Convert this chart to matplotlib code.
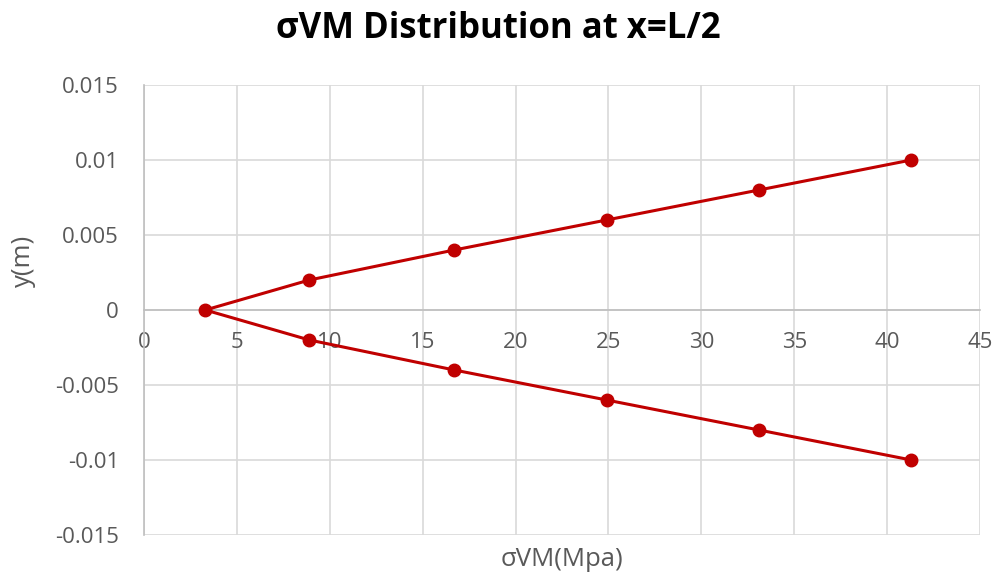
import matplotlib
matplotlib.use("Agg")
import matplotlib.pyplot as plt

# von Mises stress through the depth of the section at mid-span
sigma_vm = [41.3, 33.1, 24.9, 16.7, 8.9, 3.3, 8.9, 16.7, 24.9, 33.1, 41.3]
y_pos = [-0.010, -0.008, -0.006, -0.004, -0.002, 0.0, 0.002, 0.004, 0.006, 0.008, 0.010]

x_ticks = [0, 5, 10, 15, 20, 25, 30, 35, 40, 45]
y_ticks = [-0.015, -0.01, -0.005, 0, 0.005, 0.01, 0.015]
y_tick_labels = ["-0.015", "-0.01", "-0.005", "0", "0.005", "0.01", "0.015"]

TEXT = "#595959"
GRID = "#d9d9d9"
LINE = "#c00000"

plt.rcParams["font.family"] = ["Open Sans", "DejaVu Sans"]

fig = plt.figure(figsize=(9.97, 5.79), dpi=100)
ax = fig.add_axes([144 / 997, 1 - 535 / 579, (980 - 144) / 997, (535 - 85) / 579])

ax.plot(sigma_vm, y_pos, color=LINE, linewidth=2.2, marker="o", markersize=9,
        markerfacecolor=LINE, markeredgecolor=LINE, zorder=3)

ax.set_xlim(0, 45)
ax.set_ylim(-0.015, 0.015)
ax.set_xticks(x_ticks)
ax.set_yticks(y_ticks)
ax.set_yticklabels(y_tick_labels)

ax.grid(True, color=GRID, linewidth=1.2, zorder=0)
ax.set_axisbelow(True)

for side in ("top", "right"):
    ax.spines[side].set_visible(False)
ax.spines["left"].set_color("#bfbfbf")
ax.spines["left"].set_linewidth(1.2)
ax.spines["bottom"].set_position(("data", 0))
ax.spines["bottom"].set_color("#bfbfbf")
ax.spines["bottom"].set_linewidth(1.2)

ax.tick_params(axis="both", length=0, labelsize=16, labelcolor=TEXT)
ax.tick_params(axis="x", pad=16)
ax.tick_params(axis="y", pad=18)

ax.set_xlabel("σVM(Mpa)", fontsize=18.5, color=TEXT)
ax.xaxis.label.set_va("center")
ax.xaxis.set_label_coords((562 - 144) / 836, -(559 - 535) / 450)
ax.set_ylabel("y(m)", fontsize=18.5, color=TEXT)
ax.yaxis.label.set_va("center")
ax.yaxis.set_label_coords((23 - 144) / 836, (535 - 261) / 450)

fig.text(0.5, 1 - 29 / 579, "σVM Distribution at x=L/2", ha="center", va="center",
         fontsize=25, fontweight="bold", color="black")

fig.savefig("out.png", dpi=100, facecolor="white")
